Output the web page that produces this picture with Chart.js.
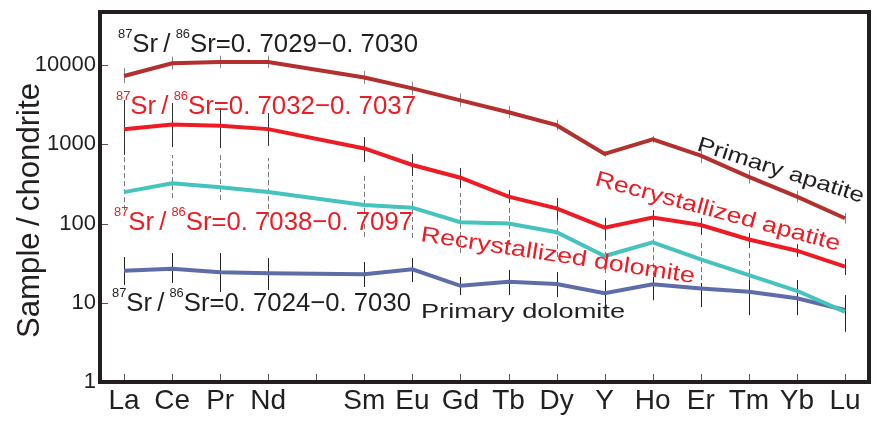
<!DOCTYPE html>
<html>
<head>
<meta charset="utf-8">
<script src="https://cdn.jsdelivr.net/npm/chart.js@4.4.1/dist/chart.umd.min.js"></script>
<style>
  html, body { margin: 0; padding: 0; background: #fff; }
  canvas { display: block; }
</style>
</head>
<body>
<canvas id="reeChart" width="877" height="421"></canvas>
<script>
// REE pattern, chondrite normalised ('' = empty Pm slot)
const categories = ['La', 'Ce', 'Pr', 'Nd', '', 'Sm', 'Eu', 'Gd', 'Tb', 'Dy', 'Y', 'Ho', 'Er', 'Tm', 'Yb', 'Lu'];
const yTicks = [1, 10, 100, 1000, 10000];

const primaryApatite     = [7300, 10600, 11000, 11000, null, 7000, 5100, 3600, 2550, 1750, 760, 1160, 720, 390, 219, 117];
const primaryApatiteLo   = [5900, 8800, 9200, 9200, null, 5800, 4200, 3000, 2150, 1500, 700, 1050, 580, 320, 185, 100];
const primaryApatiteHi   = [9200, 12800, 13200, 13200, null, 8500, 6200, 4400, 3050, 2050, 820, 1280, 880, 470, 260, 137];

const recrystApatite     = [1550, 1780, 1720, 1560, null, 890, 550, 380, 219, 156, 89, 119, 96, 63, 45.5, 28.6];
const recrystApatiteLo   = [735, 927, 900, 955, null, 600, 399, 281, 182, 111, 62, 91, 72, 49, 38, 22.4];
const recrystApatiteHi   = [3640, 3330, 2880, 2490, null, 1240, 757, 504, 266, 210, 118, 148, 118, 76, 55, 36];

const recrystDolomite    = [250, 323, 287, 250, null, 172, 159, 104, 100, 78, 39, 58, 35.4, 22.4, 14.2, 7.7];
const recrystDolomiteLo  = [148, 210, 199, 121, null, 68, 66, 42.5, 53.7, 37.9, 23.8, 10.8, 19.4, 14.5, 10.8, 5.2];
const recrystDolomiteHi  = [693, 735, 735, 673, null, 435, 355, 243, 172, 111, 62, 88, 62, 42.5, 18.3, 11.8];

const primaryDolomite    = [25.4, 27, 24.3, 23.6, null, 22.9, 26.5, 16.4, 18.5, 17.3, 13.2, 17.1, 15.2, 13.8, 11.4, 8.1];
const primaryDolomiteLo  = [16.8, 17.8, 13.7, 14.5, null, 15.8, 18.3, 12.5, 12.5, 11.8, 8.1, 10.8, 8.85, 7.0, 7.0, 4.3];
const primaryDolomiteHi  = [37.9, 42.5, 42.5, 36.8, null, 32.7, 36.8, 21.2, 26, 24.5, 19.4, 21.2, 17.8, 19.4, 19.4, 12.5];

const FONT = '"Liberation Sans", Arial, Helvetica, sans-serif';
const INK = '#231f20';
const RED = '#ed1c24';

const errorBars = [
  { lo: primaryApatiteLo, hi: primaryApatiteHi, color: '#888', dash: [] },
  { lo: recrystApatiteLo, hi: recrystApatiteHi, color: '#333', dash: [] },
  { lo: recrystDolomiteLo, hi: recrystDolomiteHi, color: '#777', dash: [5, 3] },
  { lo: primaryDolomiteLo, hi: primaryDolomiteHi, color: '#222', dash: [] }
];

// draw text pieces stretched to a given length, optionally rotated
function fitText(ctx, parts, x, y, len, angle, color) {
  ctx.save();
  ctx.translate(x, y);
  ctx.rotate(angle * Math.PI / 180);
  ctx.fillStyle = color;
  ctx.textBaseline = 'alphabetic';
  ctx.textAlign = 'left';
  let total = 0;
  parts.forEach(p => {
    ctx.font = p[1] + 'px ' + FONT;
    total += ctx.measureText(p[0]).width;
  });
  ctx.scale(len / total, 1);
  let cx = 0;
  parts.forEach(p => {
    ctx.font = p[1] + 'px ' + FONT;
    ctx.fillText(p[0], cx, -(p[2] || 0));
    cx += ctx.measureText(p[0]).width;
  });
  ctx.restore();
}

function ratio(text) {
  return [['87', 13, 14], ['Sr\u2009/\u2009', 26], ['86', 13, 14], ['Sr=' + text, 26]];
}

const decorations = {
  id: 'decorations',
  beforeDatasetsDraw(chart) {
    const { ctx, scales: { x, y } } = chart;
    ctx.save();
    ctx.lineWidth = 1;
    errorBars.forEach(b => {
      ctx.strokeStyle = b.color;
      ctx.setLineDash(b.dash);
      b.lo.forEach((lo, i) => {
        if (lo == null) return;
        const px = Math.round(x.getPixelForValue(i)) + 0.5;
        ctx.beginPath();
        ctx.moveTo(px, y.getPixelForValue(lo));
        ctx.lineTo(px, y.getPixelForValue(b.hi[i]));
        ctx.stroke();
      });
    });
    ctx.restore();
  },
  afterDraw(chart) {
    const { ctx, chartArea: a, scales: { x, y } } = chart;
    ctx.save();
    // inward tick marks
    ctx.strokeStyle = '#555';
    ctx.lineWidth = 1;
    categories.forEach((c, i) => {
      const px = Math.round(x.getPixelForValue(i)) + 0.5;
      ctx.beginPath();
      ctx.moveTo(px, a.bottom);
      ctx.lineTo(px, a.bottom - 8);
      ctx.stroke();
    });
    yTicks.forEach(v => {
      const py = Math.round(y.getPixelForValue(v)) + 0.5;
      ctx.beginPath();
      ctx.moveTo(a.left, py);
      ctx.lineTo(a.left + 8, py);
      ctx.stroke();
    });
    // frame
    ctx.strokeStyle = INK;
    ctx.lineWidth = 4;
    ctx.strokeRect(a.left, a.top, a.right - a.left, a.bottom - a.top);
    ctx.restore();

    // annotations
    fitText(ctx, ratio('0. 7029\u22120. 7030'), 118, 52, 300, 0, INK);
    fitText(ctx, ratio('0. 7032\u22120. 7037'), 116, 114, 300, 0, RED);
    fitText(ctx, ratio('0. 7038\u22120. 7097'), 114, 230, 299, 0, RED);
    fitText(ctx, ratio('0. 7024\u22120. 7030'), 112, 311, 299, 0, INK);
    fitText(ctx, [['Primary dolomite', 21]], 421, 318, 204, 0, INK);
    fitText(ctx, [['Primary apatite', 21]], 696, 150, 174, 17.7, INK);
    fitText(ctx, [['Recrystallized apatite', 22]], 594, 185, 253, 15.1, RED);
    fitText(ctx, [['Recrystallized dolomite', 22]], 420, 241, 277, 8.7, RED);
    fitText(ctx, [['Sample\u2009/\u2009chondrite', 31]], 39, 338, 255, -90, INK);
  }
};

const lineSet = (label, data, color) => ({
  label: label,
  data: data,
  borderColor: color,
  backgroundColor: color,
  borderWidth: 4,
  pointRadius: 0,
  tension: 0,
  spanGaps: true
});

new Chart(document.getElementById('reeChart'), {
  type: 'line',
  data: {
    labels: categories,
    datasets: [
      lineSet('Primary apatite', primaryApatite, '#b2302e'),
      lineSet('Recrystallized apatite', recrystApatite, RED),
      lineSet('Recrystallized dolomite', recrystDolomite, '#45c3bc'),
      lineSet('Primary dolomite', primaryDolomite, '#5f6caa')
    ]
  },
  options: {
    responsive: false,
    animation: false,
    devicePixelRatio: 1,
    layout: { padding: { top: 12, right: 8, left: 0, bottom: 0 } },
    plugins: {
      legend: { display: false },
      tooltip: { enabled: false }
    },
    scales: {
      x: {
        type: 'category',
        offset: true,
        grid: { display: false, drawTicks: false },
        border: { display: false },
        ticks: {
          autoSkip: false,
          maxRotation: 0,
          padding: 2,
          color: INK,
          font: { family: FONT, size: 28 }
        },
        afterFit(s) { s.height = 39; s.paddingLeft = 0; s.paddingRight = 0; }
      },
      y: {
        type: 'logarithmic',
        min: 1,
        max: 47000,
        grid: { display: false, drawTicks: false },
        border: { display: false },
        ticks: {
          padding: 4,
          color: INK,
          font: { family: FONT, size: 22 },
          callback: v => String(v)
        },
        afterBuildTicks(s) { s.ticks = yTicks.map(v => ({ value: v })); },
        afterFit(s) { s.width = 100; s.paddingTop = 0; s.paddingBottom = 0; }
      }
    }
  },
  plugins: [decorations]
});
</script>
</body>
</html>
